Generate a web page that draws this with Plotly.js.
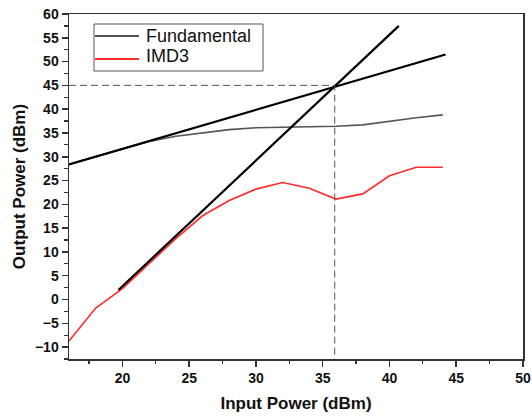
<!DOCTYPE html>
<html>
<head>
<meta charset="utf-8">
<script src="https://cdn.plot.ly/plotly-3.0.1.min.js"></script>
<style>html,body{margin:0;padding:0;background:#fff;}#chart{width:532px;height:419px;}</style>
</head>
<body>
<div id="chart"></div>
<script>
// Measured data
const inputPower = [16, 18, 20, 22, 24, 26, 28, 30, 32, 34, 36, 38, 40, 42, 44];
const fundamental = [28.4, 30.0, 31.7, 33.2, 34.3, 35.0, 35.7, 36.1, 36.2, 36.3, 36.4, 36.7, 37.5, 38.2, 38.8];
const imd3 = [-8.7, -1.8, 2.3, 7.5, 12.8, 17.6, 20.8, 23.2, 24.6, 23.4, 21.1, 22.2, 26.0, 27.8, 27.8];
const seriesNames = ['Fundamental', 'IMD3'];
const seriesColors = ['#555555', '#ff2a2a'];
// Extrapolated (fitted) lines
const fundFitX = [16, 44.2];
const fundFitY = [28.4, 51.5];
const imdFitX = [19.7, 40.7];
const imdFitY = [2.0, 57.5];
// Intercept point
const interceptX = 35.9;
const interceptY = 45;
const xRange = [16, 50];
const yRange = [-12.5, 60];

const W = 532, H = 419;
const M = {l: 69, r: 9, t: 14, b: 60};
const PW = W - M.l - M.r, PH = H - M.t - M.b;
const px = v => (v - M.l) / PW;          // pixel x -> paper x
const py = v => 1 - (v - M.t) / PH;      // pixel y -> paper y

const FONT = 'Liberation Sans, Arial, sans-serif';

const traces = [
  {x: inputPower, y: fundamental, type: 'scatter', mode: 'lines', name: seriesNames[0],
   line: {color: seriesColors[0], width: 1.6}},
  {x: inputPower, y: imd3, type: 'scatter', mode: 'lines', name: seriesNames[1],
   line: {color: seriesColors[1], width: 1.6}},
  {x: fundFitX, y: fundFitY, type: 'scatter', mode: 'lines',
   line: {color: '#000000', width: 2.2}},
  {x: imdFitX, y: imdFitY, type: 'scatter', mode: 'lines',
   line: {color: '#000000', width: 2.2}},
  {x: [xRange[0], interceptX, interceptX], y: [interceptY, interceptY, yRange[0]], type: 'scatter', mode: 'lines',
   line: {color: '#555555', width: 1, dash: '7px,4px'}}
];

// Manual legend (box, line samples, labels)
const legendRows = [36, 59];
const legendTextY = [35.5, 56];
const shapes = [
  {type: 'rect', xref: 'paper', yref: 'paper', x0: px(94), x1: px(263), y0: py(24), y1: py(71),
   line: {color: '#555555', width: 1}, fillcolor: '#ffffff', layer: 'below'}
];
const annotations = [];
seriesNames.forEach((name, i) => {
  shapes.push({type: 'line', xref: 'paper', yref: 'paper', x0: px(95), x1: px(139),
    y0: py(legendRows[i]), y1: py(legendRows[i]), line: {color: seriesColors[i], width: 1.8}});
  annotations.push({xref: 'paper', yref: 'paper', x: px(144), y: py(legendTextY[i]),
    xanchor: 'left', yanchor: 'middle', showarrow: false, text: name,
    font: {family: FONT, size: 18, color: '#111111'}});
});

const axisCommon = {
  showline: true, mirror: true, linecolor: '#333333', linewidth: 1.5,
  showgrid: false, zeroline: false,
  ticks: 'outside', ticklen: 6, tickwidth: 1.5, tickcolor: '#333333',
  ticklabeloverflow: 'allow',
  tickfont: {family: FONT, size: 14, color: '#111', weight: 'bold'},
  minor: {ticks: 'outside', ticklen: 3.5, tickwidth: 1.2, tickcolor: '#333333', dtick: 2.5, showgrid: false}
};

const layout = {
  width: W, height: H,
  margin: M,
  paper_bgcolor: '#ffffff', plot_bgcolor: '#ffffff',
  showlegend: false,
  shapes: shapes,
  annotations: annotations,
  xaxis: Object.assign({}, axisCommon, {
    range: xRange, tick0: 0, dtick: 5,
    title: {text: 'Input Power (dBm)', font: {family: FONT, size: 17, color: '#111', weight: 'bold'}, standoff: 12}
  }),
  yaxis: Object.assign({}, axisCommon, {
    range: yRange, tick0: 0, dtick: 5,
    title: {text: 'Output Power (dBm)', font: {family: FONT, size: 17, color: '#111', weight: 'bold'}, standoff: 5}
  })
};

Plotly.newPlot('chart', traces, layout, {displayModeBar: false, staticPlot: true});
</script>
</body>
</html>
